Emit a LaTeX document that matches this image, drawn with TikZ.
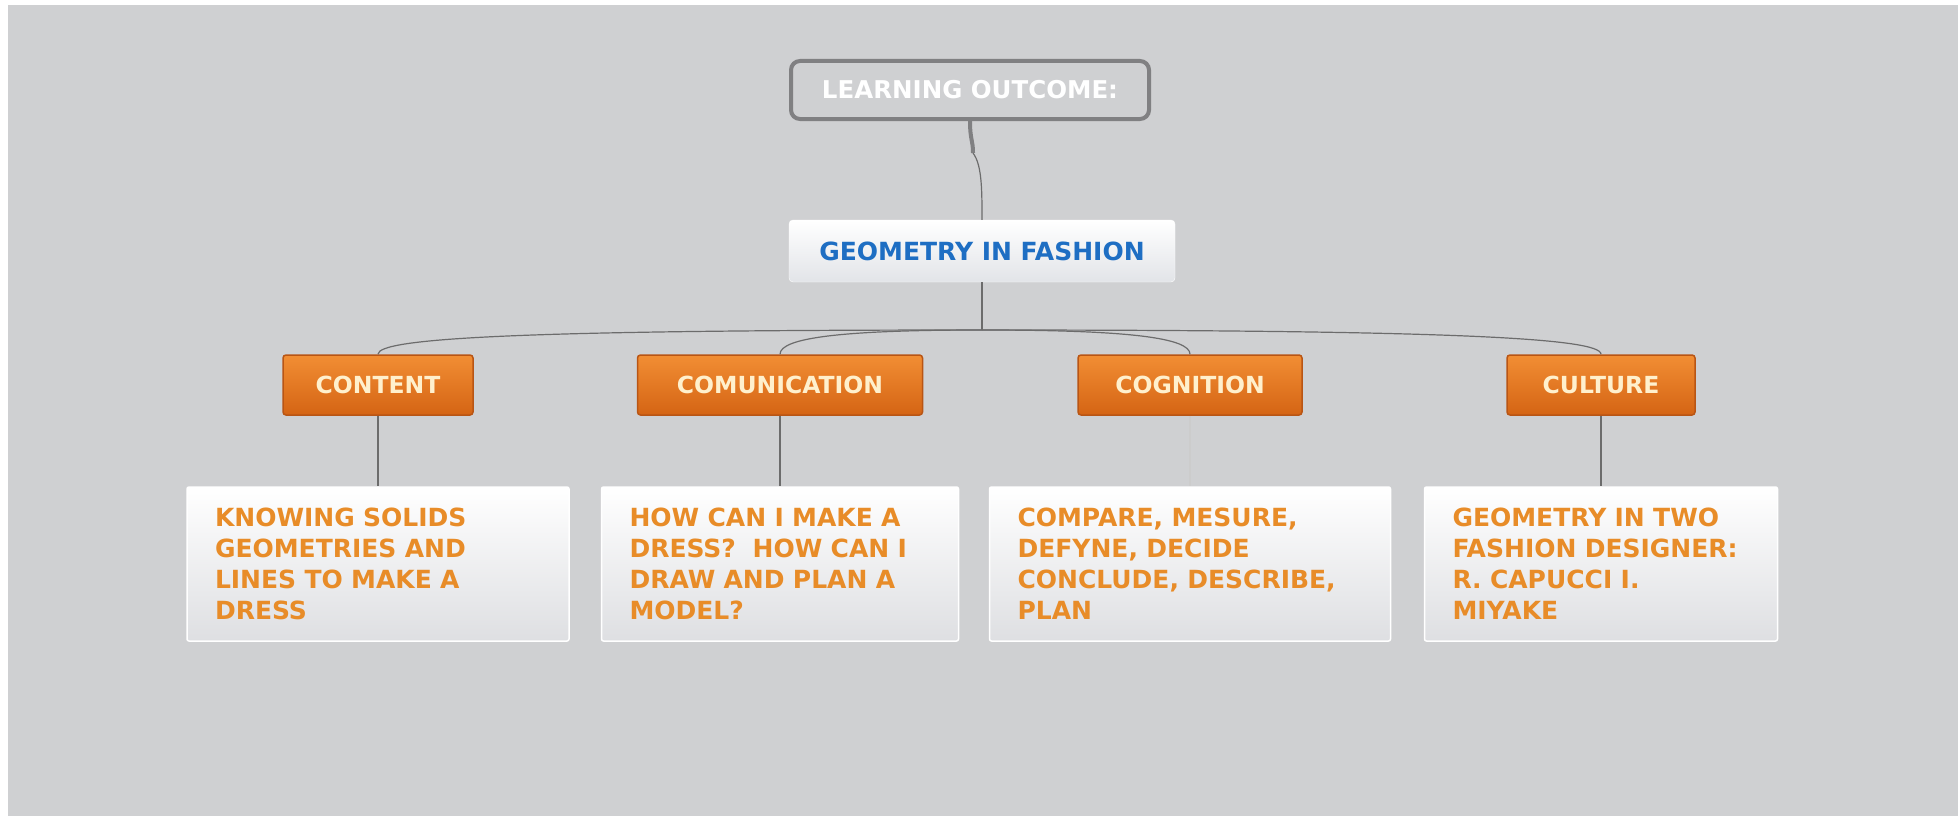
\documentclass[tikz,border=0pt]{standalone}
\usepackage{fontspec}
\setmainfont{DejaVu Sans}
\usetikzlibrary{positioning}

\definecolor{canvas}{RGB}{207,208,210}
\definecolor{boxedge}{RGB}{128,128,130}
\definecolor{themeblue}{RGB}{30,110,195}
\definecolor{themebot}{RGB}{226,228,232}
\definecolor{areatop}{RGB}{242,142,52}
\definecolor{areabot}{RGB}{212,100,20}
\definecolor{areaedge}{RGB}{185,85,20}
\definecolor{areatext}{RGB}{255,240,205}
\definecolor{detailtext}{RGB}{232,140,40}
\definecolor{detailbot}{RGB}{222,223,226}

\begin{document}
\begin{tikzpicture}[x=1pt, y=1pt, node distance=179pt,
    link/.style={draw=gray!85!black, line width=1.2pt},
    outcome/.style={rectangle, rounded corners=9pt, draw=boxedge, line width=4pt, fill=canvas, text=white, minimum width=358pt, minimum height=58pt, font=\bfseries\fontsize{24.5}{28}\selectfont},
    theme/.style={rectangle, rounded corners=4pt, top color=white, bottom color=themebot, draw=white, text=themeblue, minimum width=386pt, minimum height=62pt, font=\bfseries\fontsize{25}{29}\selectfont},
    area/.style={rectangle, rounded corners=3pt, top color=areatop, bottom color=areabot, draw=areaedge, line width=1.5pt, text=areatext, minimum height=60pt, font=\bfseries\fontsize{23.5}{27}\selectfont},
    detail/.style={rectangle, rounded corners=2pt, top color=white, bottom color=detailbot, draw=white, line width=1.5pt, text=detailtext, align=left, minimum height=154pt, inner xsep=28pt, font=\bfseries\fontsize{25}{31}\selectfont}]

    \useasboundingbox (0,0) rectangle (1958,-816);
    \fill[white] (0,0) rectangle (1958,-816);
    \fill[canvas] (8,-5) rectangle (1958,-816);

    \node(outcome)[outcome] at (970,-90) {LEARNING OUTCOME:};
    \node(theme)[theme] at (982,-251) {GEOMETRY IN FASHION};

    \node(content)[area, minimum width=190pt] at (378,-385) {CONTENT};
    \node(comm)[area, minimum width=285pt] at (780,-385) {COMUNICATION};
    \node(cogn)[area, minimum width=224pt] at (1190,-385) {COGNITION};
    \node(cult)[area, minimum width=188pt] at (1601,-385) {CULTURE};

    \node(content-d)[detail, text width=326pt, below of=content] {KNOWING SOLIDS\\GEOMETRIES AND\\LINES TO MAKE A\\DRESS};
    \node(comm-d)[detail, text width=301pt, below of=comm] {HOW CAN I MAKE A\\DRESS?\ \ HOW CAN I\\DRAW AND PLAN A\\MODEL?};
    \node(cogn-d)[detail, text width=345pt, below of=cogn] {COMPARE, MESURE,\\DEFYNE, DECIDE\\CONCLUDE, DESCRIBE,\\PLAN};
    \node(cult-d)[detail, text width=297pt, below of=cult] {GEOMETRY IN TWO\\FASHION DESIGNER:\\R. CAPUCCI I.\\MIYAKE};

    \coordinate(neck) at (973,-153);
    \coordinate(hub) at (982,-330);

    \draw[link, line width=4pt, draw=boxedge] (outcome.south) .. controls (970,-140) and (973,-140) .. (neck);
    \draw[link] (neck) .. controls (982,-165) and (982,-190) .. (theme.north);
    \draw[link] (theme.south) -- (hub);

    \draw[link] (hub) .. controls (520,-330) and (378,-338) .. (content.north);
    \draw[link] (hub) .. controls (840,-330) and (780,-338) .. (comm.north);
    \draw[link] (hub) .. controls (1130,-330) and (1190,-338) .. (cogn.north);
    \draw[link] (hub) .. controls (1450,-330) and (1601,-338) .. (cult.north);

    \draw[link] (content) -- (content-d);
    \draw[link] (comm) -- (comm-d);
    \draw[link, draw=gray!40] (cogn) -- (cogn-d);
    \draw[link] (cult) -- (cult-d);
  \end{tikzpicture}
\end{document}
